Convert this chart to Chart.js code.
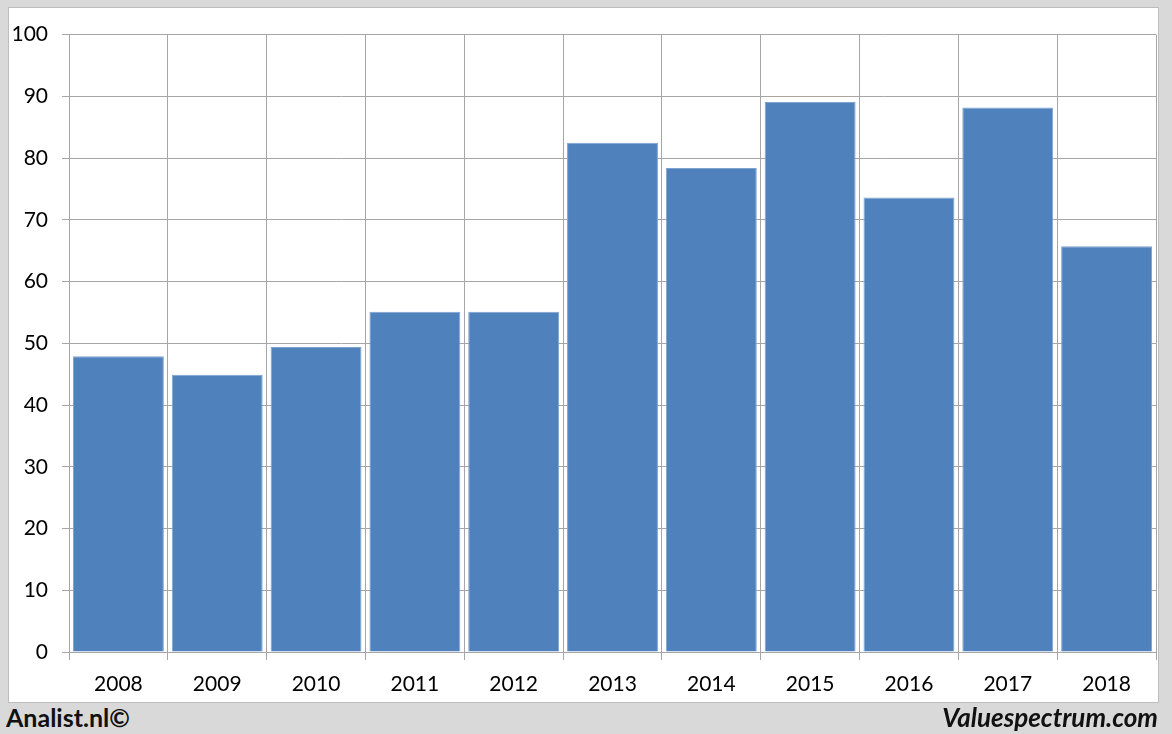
<!doctype html>
<html lang="en">
<head>
  <meta charset="utf-8">
  <title>Analist.nl chart</title>
  <script src="https://cdn.jsdelivr.net/npm/chart.js@4.4.0/dist/chart.umd.min.js"></script>
  <style>
    html, body { margin: 0; padding: 0; }
    body {
      width: 1172px;
      height: 734px;
      background: #d9d9d9;
      position: relative;
      overflow: hidden;
      font-family: Lato, "Open Sans", sans-serif;
    }
    .panel {
      position: absolute;
      left: 8px;
      top: 7px;
      width: 1149px;
      height: 694px;
      background: #fff;
      border: 1px solid #bdbdbd;
    }
    .foot {
      position: absolute;
      top: 702px;
      font-weight: bold;
      font-size: 25px;
      color: #111;
      line-height: 30px;
    }
    .left { left: 6px; }
    .right { right: 14px; font-style: italic; font-size: 26px; }
  </style>
</head>
<body>
  <div class="panel">
    <canvas id="chart" width="1149" height="694"></canvas>
  </div>
  <div class="foot left">Analist.nl©</div>
  <div class="foot right">Valuespectrum.com</div>

  <script>
    // values
    const years = ['2008', '2009', '2010', '2011', '2012', '2013', '2014', '2015', '2016', '2017', '2018'];
    const values = [47.9, 44.9, 49.4, 55.1, 55.1, 82.5, 78.4, 89.1, 73.6, 88.2, 65.7];
    const yTicks = [0, 10, 20, 30, 40, 50, 60, 70, 80, 90, 100];

    const gridGrey = '#a6a6a6';

    new Chart(document.getElementById('chart'), {
      type: 'bar',
      data: {
        labels: years,
        datasets: [{
          data: values,
          backgroundColor: '#4f81bd',
          borderColor: '#7fa3d0',
          borderWidth: 1,
          categoryPercentage: 1,
          barPercentage: 0.92
        }]
      },
      options: {
        responsive: false,
        animation: false,
        layout: { padding: { top: 26, right: 2, left: 0, bottom: 0 } },
        plugins: {
          legend: { display: false },
          tooltip: { enabled: false }
        },
        scales: {
          x: {
            afterFit: s => { s.height = 50; },
            grid: { color: gridGrey, lineWidth: 1, tickLength: 8, offset: true },
            border: { color: gridGrey },
            ticks: {
              color: '#000',
              padding: 12,
              font: { family: 'Lato', size: 21 }
            }
          },
          y: {
            min: 0,
            max: 100,
            afterFit: s => { s.width = 60; },
            afterBuildTicks: s => { s.ticks = yTicks.map(v => ({ value: v })); },
            grid: { color: gridGrey, lineWidth: 1, tickLength: 7 },
            border: { color: gridGrey },
            ticks: {
              color: '#000',
              padding: 14,
              font: { family: 'Lato', size: 21 }
            }
          }
        }
      }
    });
  </script>
</body>
</html>
